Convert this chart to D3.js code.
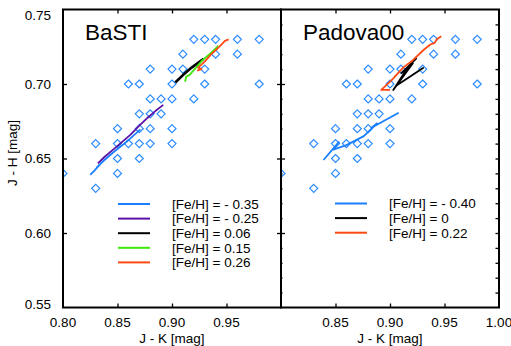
<!DOCTYPE html>
<html><head><meta charset="utf-8">
<script src="https://cdn.jsdelivr.net/npm/d3@7"></script>
<style>body{margin:0;background:#fff;}svg{display:block;font-family:"Liberation Sans",Arial,sans-serif;}</style>
</head><body>
<svg id="c" width="511" height="346"></svg>
<script>
// ---- data ----
const starJK = [0.92,0.93,0.94,0.96,0.98, 0.91,0.94,0.96, 0.88,0.90,0.91,0.93, 0.86,0.87,0.90,0.93,0.98,
  0.88,0.89,0.90,0.92, 0.87,0.88,0.89, 0.85,0.87,0.88,0.90, 0.83,0.85,0.86,0.87,0.88,0.90, 0.85,0.87, 0.80,0.85, 0.83];
const starJH = [0.73,0.73,0.73,0.73,0.73, 0.72,0.72,0.72, 0.71,0.71,0.71,0.71, 0.70,0.70,0.70,0.70,0.70,
  0.69,0.69,0.69,0.69, 0.68,0.68,0.68, 0.67,0.67,0.67,0.67, 0.66,0.66,0.66,0.66,0.66,0.66, 0.65,0.65, 0.64,0.64, 0.63];

const bastiLabels = ["[Fe/H] = - 0.35","[Fe/H] = - 0.25","[Fe/H] = 0.06","[Fe/H] = 0.15","[Fe/H] = 0.26"];
const bastiColors = ["#1a7fff","#5c12a8","#000000","#3ee80a","#ff4a14"];
const bastiJK = [
  [0.825,0.829,0.834,0.831,0.838,0.846,0.858,0.871],
  [0.832,0.838,0.846,0.854,0.862,0.870,0.877,0.885,0.892],
  [0.903,0.910,0.918,0.929],
  [0.912,0.913,0.916,0.922,0.928,0.936,0.9425],
  [0.923,0.927,0.924,0.930,0.936,0.942,0.946,0.9485,0.952]
];
const bastiJH = [
  [0.639,0.642,0.646,0.644,0.649,0.654,0.661,0.6695],
  [0.6467,0.651,0.656,0.661,0.666,0.672,0.677,0.682,0.686],
  [0.701,0.706,0.711,0.717],
  [0.7015,0.705,0.706,0.711,0.716,0.721,0.7256],
  [0.709,0.710,0.711,0.715,0.720,0.724,0.727,0.729,0.730]
];

const padovaLabels = ["[Fe/H] = - 0.40","[Fe/H] = 0","[Fe/H] = 0.22"];
const padovaColors = ["#1a7fff","#000000","#ff4a14"];
const padovaJK = [
  [0.839,0.853,0.848,0.860,0.876,0.888,0.883,0.908],
  [0.910,0.924,0.917,0.903,0.921,0.914,0.906,0.931],
  [0.900,0.892,0.902,0.912,0.921,0.931,0.937,0.941,0.943,0.947]
];
const padovaJH = [
  [0.649,0.661,0.656,0.659,0.665,0.6735,0.6706,0.6807],
  [0.707,0.717,0.712,0.696,0.714,0.708,0.699,0.711],
  [0.696,0.696,0.703,0.711,0.716,0.723,0.7265,0.7276,0.730,0.732]
];

const xTickLeft = [0.80,0.85,0.90,0.95];
const xTickRight = [0.85,0.90,0.95,1.00];
const yTicks = [0.55,0.60,0.65,0.70,0.75];

// ---- layout ----
const svg = d3.select("#c");
const plotTop = 9.5, plotBottom = 307.5;
const y = d3.scaleLinear().domain([0.55,0.75]).range([plotBottom, plotTop]);
const panels = [
  {x0:63, x1:281, title:"BaSTI", jk:bastiJK, jh:bastiJH, colors:bastiColors, labels:bastiLabels, xt:xTickLeft,
   leg:{lx:118, tx:172, y0:204}, id:"L"},
  {x0:281, x1:499, title:"Padova00", jk:padovaJK, jh:padovaJH, colors:padovaColors, labels:padovaLabels, xt:xTickRight,
   leg:{lx:335, tx:389, y0:203.5}, id:"R"}
];
const diamond = "M0,-4L4,0L0,4L-4,0Z";

panels.forEach((p,pi) => {
  const x = d3.scaleLinear().domain([0.80,1.00]).range([p.x0,p.x1]);
  const g = svg.append("g");
  svg.append("clipPath").attr("id","clip"+p.id).append("rect")
    .attr("x",p.x0).attr("y",plotTop).attr("width",p.x1-p.x0).attr("height",plotBottom-plotTop);
  const cg = g.append("g").attr("clip-path","url(#clip"+p.id+")");
  cg.selectAll("path.star").data(starJK.map((v,i)=>[v,starJH[i]])).join("path")
    .attr("class","star").attr("d",diamond)
    .attr("transform",d=>`translate(${x(d[0])},${y(d[1])})`)
    .attr("fill","none").attr("stroke","#2a8bff").attr("stroke-width",1.2);
  const line = d3.line().x(d=>x(d[0])).y(d=>y(d[1]));
  p.jk.forEach((arr,k) => {
    cg.append("path").datum(arr.map((v,i)=>[v,p.jh[k][i]]))
      .attr("d",line).attr("fill","none").attr("stroke",p.colors[k])
      .attr("stroke-width", (pi===0 && k===2) ? 2.6 : 1.8).attr("stroke-linejoin","round");
  });
  const axB = d3.axisBottom(x).tickValues([0.85,0.90,0.95]).tickSize(-4).tickFormat("");
  const axT = d3.axisTop(x).tickValues([0.85,0.90,0.95]).tickSize(-4).tickFormat("");
  g.append("g").attr("transform",`translate(0,${plotBottom})`).call(axB);
  g.append("g").attr("transform",`translate(0,${plotTop})`).call(axT);
  const majors = [0.60,0.65,0.70];
  const minors = d3.range(56,75).map(v=>v/100).filter(v=>Math.round(v*100)%5!==0);
  if (pi===0) {
    g.append("g").attr("transform",`translate(${p.x0},0)`).call(d3.axisLeft(y).tickValues(majors).tickSize(-4).tickFormat(""));
    g.append("g").attr("transform",`translate(${p.x1},0)`).call(d3.axisRight(y).tickValues(majors).tickSize(-4).tickFormat(""));
  } else {
    g.append("g").attr("transform",`translate(${p.x0},0)`).call(d3.axisLeft(y).tickValues(majors).tickSize(-4).tickFormat(""));
    g.append("g").attr("transform",`translate(${p.x0},0)`).call(d3.axisLeft(y).tickValues(minors).tickSize(-1.5).tickFormat(""));
    g.append("g").attr("transform",`translate(${p.x1},0)`).call(d3.axisRight(y).tickValues(majors.concat(minors)).tickSize(-3.5).tickFormat(""));
  }
  g.selectAll(".domain").remove();
  g.selectAll(".tick line").attr("stroke","#000").attr("stroke-width",1.3);
  g.append("rect").attr("x",p.x0).attr("y",plotTop).attr("width",p.x1-p.x0).attr("height",plotBottom-plotTop)
    .attr("fill","none").attr("stroke","#000").attr("stroke-width",2);
  g.selectAll("text.xt").data(p.xt).join("text").attr("class","xt")
    .attr("x",d=>x(d)).attr("y",327).attr("text-anchor","middle").attr("font-size",13.5)
    .text(d=>d3.format(".2f")(d));
  g.append("text").attr("x",(p.x0+p.x1)/2).attr("y",342.5).attr("text-anchor","middle")
    .attr("font-size",13.5).text("J - K [mag]");
  g.append("text").attr("x",p.x0+22).attr("y",39.5).attr("font-size",22.5).text(p.title);
  p.labels.forEach((lab,k) => {
    const yy = p.leg.y0 + k*14.6;
    g.append("line").attr("x1",p.leg.lx).attr("x2",p.leg.lx+32).attr("y1",yy).attr("y2",yy)
      .attr("stroke",p.colors[k]).attr("stroke-width",2);
    g.append("text").attr("x",p.leg.tx).attr("y",yy+4.8).attr("font-size",13.5).text(lab);
  });
});

svg.selectAll("text.yt").data(yTicks).join("text").attr("class","yt")
  .attr("x",51).attr("y",d=>Math.min(Math.max(y(d),15),304)+4.8).attr("text-anchor","end")
  .attr("font-size",13.5).text(d=>d3.format(".2f")(d));
svg.append("text").attr("transform","translate(17,153) rotate(-90)").attr("text-anchor","middle")
  .attr("font-size",13.5).text("J - H [mag]");
</script>
</body></html>
